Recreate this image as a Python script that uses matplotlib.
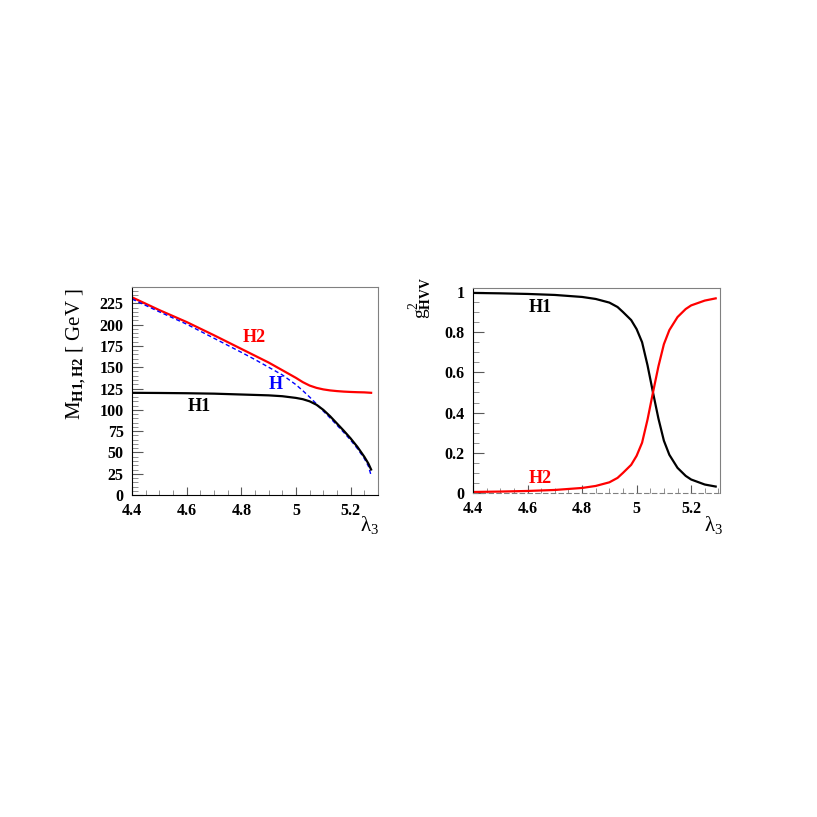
import matplotlib
matplotlib.use('Agg')
import matplotlib.pyplot as plt
from matplotlib.ticker import MultipleLocator, FuncFormatter

plt.rcParams['font.family'] = ['Liberation Serif', 'DejaVu Serif']
plt.rcParams['mathtext.fontset'] = 'custom'
plt.rcParams['mathtext.rm'] = 'Liberation Serif'
plt.rcParams['mathtext.it'] = 'Liberation Serif:italic'
plt.rcParams['mathtext.bf'] = 'Liberation Serif:bold'

# masses (left panel)
lam_m = [4.4, 4.5, 4.6, 4.7, 4.8, 4.85, 4.9, 4.95, 5.0, 5.025, 5.05, 5.075, 5.1, 5.125,
         5.15, 5.175, 5.2, 5.225, 5.25, 5.265, 5.275]
m_h2 = [232, 217, 203, 187.5, 171.5, 163.5, 155.5, 146.5, 137.5, 132.5, 128.5, 125.8, 124, 122.8,
        122, 121.4, 121, 120.7, 120.5, 120.2, 120]
m_h = [230, 215, 200.5, 184, 167.5, 159, 150, 141, 129.5, 122.5, 115, 107, 98.5, 90.5,
       82, 73.5, 64.5, 54.5, 43, 34, 23]
m_h1 = [120, 119.8, 119.5, 119, 118, 117.5, 117, 116, 114, 112.5, 110, 106, 100, 92.5,
        84, 75.5, 66.5, 56.5, 45, 37, 30]

# couplings (right panel)
lam_g = [4.4, 4.5, 4.6, 4.7, 4.8, 4.85, 4.9, 4.93, 4.95, 4.98, 5.0, 5.02, 5.04, 5.06,
         5.08, 5.1, 5.12, 5.15, 5.18, 5.2, 5.25, 5.29]
g_h1 = [0.995, 0.993, 0.99, 0.985, 0.975, 0.965, 0.947, 0.925, 0.9, 0.86, 0.815, 0.75,
        0.635, 0.5, 0.37, 0.26, 0.19, 0.125, 0.085, 0.067, 0.042, 0.032]
g_h2 = [0.005, 0.007, 0.01, 0.015, 0.025, 0.035, 0.053, 0.075, 0.1, 0.14, 0.185, 0.25,
        0.365, 0.5, 0.63, 0.74, 0.81, 0.875, 0.915, 0.933, 0.957, 0.968]

fig = plt.figure(figsize=(8.17, 8.17), dpi=100)
ax1 = fig.add_axes([0.1616, 0.394, 0.301, 0.2546])
ax2 = fig.add_axes([0.579, 0.3966, 0.302, 0.251])

fmt = FuncFormatter(lambda v, p: '%g' % round(v, 2))

def style(ax):
    ax.tick_params(which='both', direction='in', top=False, right=False, labelsize=11.5, pad=6)
    ax.tick_params(which='major', length=8, color='0.35')
    ax.tick_params(which='minor', length=4, color='0.5')
    ax.tick_params(axis='x', which='major', length=6)
    ax.tick_params(axis='x', which='minor', length=3.5)
    ax.spines['top'].set_color('0.5')
    ax.spines['right'].set_color('0.5')
    ax.xaxis.set_major_locator(MultipleLocator(0.2))
    ax.xaxis.set_minor_locator(MultipleLocator(0.05))
    ax.xaxis.set_major_formatter(fmt)
    ax.yaxis.set_major_formatter(fmt)
    for t in ax.get_xticklabels() + ax.get_yticklabels():
        t.set_fontweight('bold')

ax1.plot(lam_m, m_h2, color='red', lw=1.6)
ax1.plot(lam_m, m_h, color='blue', lw=1.0, ls=(0, (3, 2)))
ax1.plot(lam_m, m_h1, color='black', lw=1.6)
ax1.set_xlim(4.4, 5.3)
ax1.set_ylim(0, 244)
ax1.yaxis.set_major_locator(MultipleLocator(25))
ax1.yaxis.set_minor_locator(MultipleLocator(5))
style(ax1)
ax1.text(4.846, 185, 'H2', color='red', fontsize=13, fontweight='bold', ha='center', va='center')
ax1.text(4.927, 130, 'H', color='blue', fontsize=13, fontweight='bold', ha='center', va='center')
ax1.text(4.645, 104, 'H1', color='black', fontsize=13, fontweight='bold', ha='center', va='center')
fig.text(0.093, 0.566, r'$\mathrm{M_{\mathbf{H1,H2}}}$ [ GeV ]', rotation=90, fontsize=15,
         ha='center', va='center')
fig.text(0.452, 0.357, r'$\mathrm{\lambda_3}$', fontsize=15, ha='center', va='center')

ax2.plot(lam_g, g_h1, color='black', lw=1.6)
ax2.plot(lam_g, g_h2, color='red', lw=1.6)
ax2.set_xlim(4.4, 5.305)
ax2.set_ylim(0, 1.02)
ax2.yaxis.set_major_locator(MultipleLocator(0.2))
ax2.yaxis.set_minor_locator(MultipleLocator(0.05))
style(ax2)
ax2.spines['bottom'].set_linestyle((0, (4, 3)))
ax2.spines['bottom'].set_color('0.5')
ax2.text(4.645, 0.925, 'H1', color='black', fontsize=13, fontweight='bold', ha='center', va='center')
ax2.text(4.645, 0.07, 'H2', color='red', fontsize=13, fontweight='bold', ha='center', va='center')
fig.text(0.515, 0.635, r'$\mathrm{g^2_{\mathbf{HVV}}}$', rotation=90, fontsize=14,
         ha='center', va='center')
fig.text(0.873, 0.357, r'$\mathrm{\lambda_3}$', fontsize=15, ha='center', va='center')

fig.savefig('out.png', dpi=100)
